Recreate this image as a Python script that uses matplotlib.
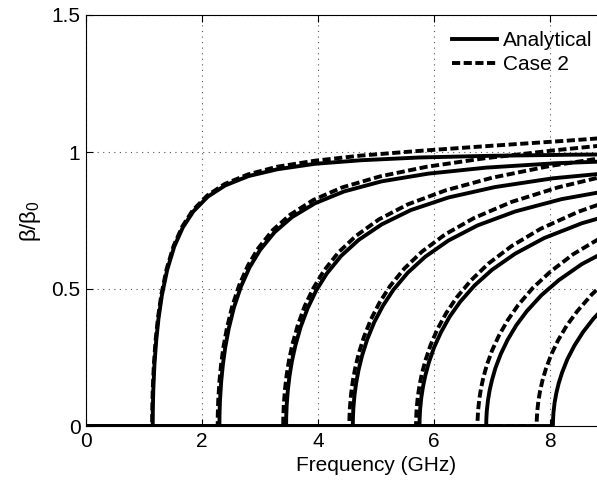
import matplotlib
matplotlib.use("Agg")
import matplotlib.pyplot as plt

plt.rcParams['font.family'] = ['Liberation Sans', 'DejaVu Sans']
plt.rcParams['mathtext.default'] = 'regular'

# Analytical curves (solid), frequency in GHz and beta/beta0
ana_f = [
    [0, 1.15, 1.152, 1.16, 1.18, 1.21, 1.25, 1.31, 1.4, 1.52, 1.67, 1.85, 2.1, 2.4, 2.8, 3.3, 3.95, 4.75, 5.75, 6.95, 8.35, 10],
    [0, 2.3, 2.302, 2.31, 2.33, 2.36, 2.4, 2.46, 2.55, 2.67, 2.82, 3.0, 3.25, 3.55, 3.95, 4.45, 5.1, 5.9, 6.9, 8.1, 9.5, 10],
    [0, 3.45, 3.452, 3.46, 3.48, 3.51, 3.55, 3.61, 3.7, 3.82, 3.97, 4.15, 4.4, 4.7, 5.1, 5.6, 6.25, 7.05, 8.05, 9.25, 10],
    [0, 4.6, 4.602, 4.61, 4.63, 4.66, 4.7, 4.76, 4.85, 4.97, 5.12, 5.3, 5.55, 5.85, 6.25, 6.75, 7.4, 8.2, 9.2, 10],
    [0, 5.75, 5.752, 5.76, 5.78, 5.81, 5.85, 5.91, 6.0, 6.12, 6.27, 6.45, 6.7, 7.0, 7.4, 7.9, 8.55, 9.35, 10],
    [0, 6.9, 6.902, 6.91, 6.93, 6.96, 7.0, 7.06, 7.15, 7.27, 7.42, 7.6, 7.85, 8.15, 8.55, 9.05, 9.7, 10],
    [0, 8.05, 8.052, 8.06, 8.08, 8.11, 8.15, 8.21, 8.3, 8.42, 8.57, 8.75, 9.0, 9.3, 9.7, 10],
]
ana_b = [
    [0, 0, 0.059, 0.131, 0.224, 0.311, 0.392, 0.479, 0.57, 0.654, 0.725, 0.783, 0.837, 0.878, 0.912, 0.937, 0.957, 0.97, 0.98, 0.986, 0.99, 0.993],
    [0, 0, 0.042, 0.093, 0.160, 0.224, 0.286, 0.355, 0.432, 0.508, 0.579, 0.642, 0.707, 0.762, 0.813, 0.856, 0.893, 0.921, 0.943, 0.959, 0.970, 0.973],
    [0, 0, 0.034, 0.076, 0.131, 0.184, 0.236, 0.294, 0.361, 0.429, 0.495, 0.556, 0.621, 0.679, 0.736, 0.788, 0.834, 0.872, 0.904, 0.928, 0.939],
    [0, 0, 0.029, 0.066, 0.114, 0.160, 0.205, 0.257, 0.317, 0.379, 0.439, 0.497, 0.560, 0.618, 0.677, 0.732, 0.783, 0.828, 0.866, 0.888],
    [0, 0, 0.026, 0.059, 0.102, 0.143, 0.184, 0.231, 0.286, 0.342, 0.399, 0.453, 0.513, 0.570, 0.629, 0.686, 0.740, 0.789, 0.818],
    [0, 0, 0.024, 0.054, 0.093, 0.131, 0.168, 0.212, 0.262, 0.315, 0.368, 0.419, 0.477, 0.532, 0.591, 0.647, 0.703, 0.724],
    [0, 0, 0.022, 0.050, 0.086, 0.121, 0.156, 0.196, 0.244, 0.293, 0.343, 0.392, 0.447, 0.501, 0.558, 0.593],
]

# Case 2 curves (dashed)
case_f = [
    [0, 1.14, 1.142, 1.15, 1.17, 1.2, 1.24, 1.3, 1.39, 1.51, 1.66, 1.84, 2.09, 2.39, 2.79, 3.29, 3.94, 4.74, 5.74, 6.94, 8.34, 10],
    [0, 2.27, 2.272, 2.28, 2.3, 2.33, 2.37, 2.43, 2.52, 2.64, 2.79, 2.97, 3.22, 3.52, 3.92, 4.42, 5.07, 5.87, 6.87, 8.07, 9.47, 10],
    [0, 3.4, 3.402, 3.41, 3.43, 3.46, 3.5, 3.56, 3.65, 3.77, 3.92, 4.1, 4.35, 4.65, 5.05, 5.55, 6.2, 7.0, 8.0, 9.2, 10],
    [0, 4.54, 4.542, 4.55, 4.57, 4.6, 4.64, 4.7, 4.79, 4.91, 5.06, 5.24, 5.49, 5.79, 6.19, 6.69, 7.34, 8.14, 9.14, 10],
    [0, 5.69, 5.692, 5.7, 5.72, 5.75, 5.79, 5.85, 5.94, 6.06, 6.21, 6.39, 6.64, 6.94, 7.34, 7.84, 8.49, 9.29, 10],
    [0, 6.75, 6.752, 6.76, 6.78, 6.81, 6.85, 6.91, 7.0, 7.12, 7.27, 7.45, 7.7, 8.0, 8.4, 8.9, 9.55, 10],
    [0, 7.77, 7.772, 7.78, 7.8, 7.83, 7.87, 7.93, 8.02, 8.14, 8.29, 8.47, 8.72, 9.02, 9.42, 9.92, 10],
]
case_b = [
    [0, 0, 0.059, 0.132, 0.225, 0.313, 0.394, 0.481, 0.573, 0.657, 0.728, 0.787, 0.841, 0.883, 0.918, 0.946, 0.968, 0.987, 1.004, 1.022, 1.042, 1.068],
    [0, 0, 0.042, 0.094, 0.162, 0.226, 0.289, 0.358, 0.436, 0.513, 0.585, 0.649, 0.715, 0.771, 0.825, 0.871, 0.911, 0.946, 0.977, 1.006, 1.036, 1.047],
    [0, 0, 0.035, 0.077, 0.133, 0.187, 0.240, 0.299, 0.367, 0.437, 0.503, 0.566, 0.633, 0.693, 0.754, 0.809, 0.860, 0.906, 0.949, 0.988, 1.011],
    [0, 0, 0.03, 0.067, 0.116, 0.164, 0.21, 0.263, 0.324, 0.388, 0.45, 0.51, 0.575, 0.636, 0.699, 0.759, 0.818, 0.871, 0.922, 0.958],
    [0, 0, 0.027, 0.061, 0.105, 0.148, 0.19, 0.238, 0.295, 0.354, 0.412, 0.469, 0.532, 0.593, 0.657, 0.72, 0.782, 0.842, 0.884],
    [0, 0, 0.025, 0.056, 0.097, 0.137, 0.176, 0.222, 0.275, 0.33, 0.386, 0.441, 0.503, 0.562, 0.627, 0.69, 0.756, 0.793],
    [0, 0, 0.024, 0.053, 0.092, 0.129, 0.166, 0.209, 0.26, 0.313, 0.367, 0.419, 0.48, 0.539, 0.603, 0.668, 0.677],
]

fig = plt.figure(figsize=(5.97, 4.82), dpi=100)
# axes run to 10 GHz, the right part falls outside the picture like the original
ax = fig.add_axes([86/597, 56/482, 580/597, 411/482])

for i in range(len(ana_f)):
    ax.plot(ana_f[i], ana_b[i], color='k', lw=2.8, label='Analytical' if i == 0 else None)
for i in range(len(case_f)):
    ax.plot(case_f[i], case_b[i], color='k', lw=2.8, dashes=(2.1, 0.9), label='Case 2' if i == 0 else None)

ax.set_xlim(0, 10)
ax.set_ylim(0, 1.5)
ax.set_xticks([0, 2, 4, 6, 8])
ax.set_yticks([0, 0.5, 1, 1.5])
ax.set_yticklabels(['0', '0.5', '1', '1.5'])
ax.tick_params(direction='in', labelsize=15, length=5, top=True, pad=4)
ax.grid(True, linestyle=(0, (1, 4)), color='#555555', lw=0.8)
ax.set_xlabel('Frequency (GHz)', fontsize=15, labelpad=4)
ax.set_ylabel(r'$\beta/\beta_0$', fontsize=16, labelpad=6)
fig.legend(loc='upper left', bbox_to_anchor=(452/597, 1 - 31/482), frameon=False,
           fontsize=15, handlelength=2.16, handletextpad=0.3, labelspacing=0.25,
           borderpad=0, borderaxespad=0)
fig.savefig("out.png")
